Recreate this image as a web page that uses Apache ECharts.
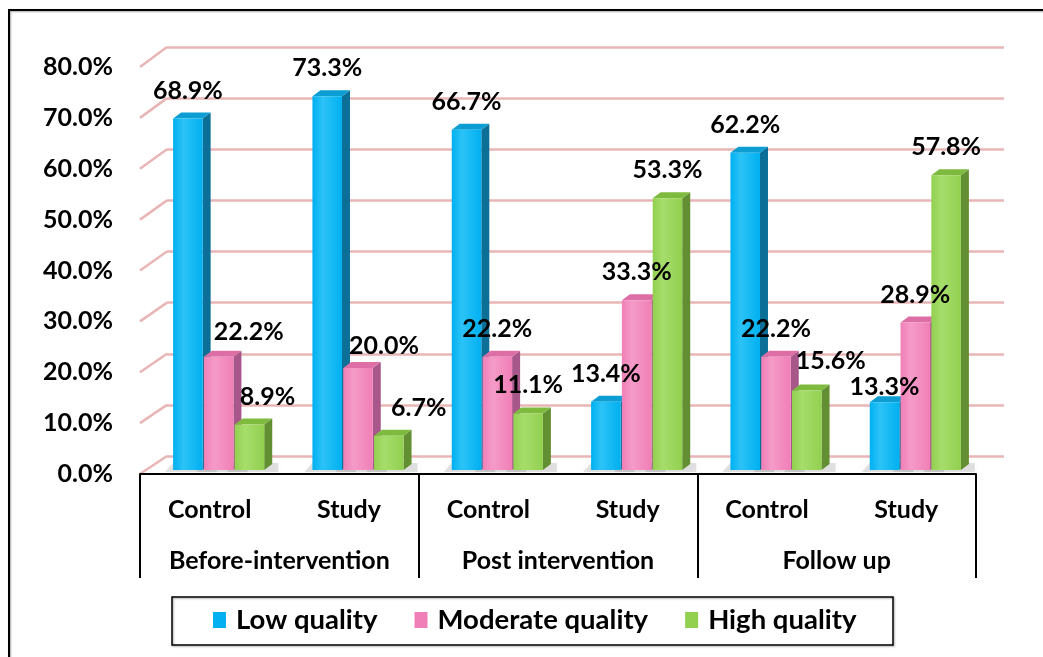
<!DOCTYPE html>
<html>
<head>
<meta charset="utf-8">
<script src="https://cdn.jsdelivr.net/npm/echarts@6/dist/echarts.min.js"></script>
<style>
  html, body { margin: 0; padding: 0; background: #ffffff; }
  #chart { width: 1043px; height: 657px; }
</style>
</head>
<body>
<div id="chart"></div>
<script>
// ---- data ----
const phases = ['Before-intervention', 'Post intervention', 'Follow up'];
const arms = ['Control', 'Study', 'Control', 'Study', 'Control', 'Study'];
const lowQuality = [68.9, 73.3, 66.7, 13.4, 62.2, 13.3];
const moderateQuality = [22.2, 20.0, 22.2, 33.3, 22.2, 28.9];
const highQuality = [8.9, 6.7, 11.1, 53.3, 15.6, 57.8];
const yMin = 0, yMax = 80, yStep = 10;

// ---- layout & style ----
const FONT = 'Lato, "Open Sans", sans-serif';
const FRONT = { left: 140, right: 67, top: 67, bottom: 183 };   // axis labels / category table plane
const BACK = { left: 167, right: 39, top: 47, bottom: 201 };    // back wall with gridlines
const BARS = { left: 149, right: 58, top: 62, bottom: 187 };    // plane the bars stand on
const DEPTH = [8, -6];                                          // bar thickness in depth
const GRID_PINK = '#E8B6B6';

const palettes = {
  low:      { front: '#00B0F0', light: '#2CC3F7', side: '#0B6F98', top: '#0C9DD3' },
  moderate: { front: '#F07FB7', light: '#F59BC8', side: '#A8578A', top: '#DE6FA6' },
  high:     { front: '#92D050', light: '#A6DD6B', side: '#628F31', top: '#7DBA3E' }
};

// labels that sit beside their bar rather than straight above it: [dx, dy]
const labelNudges = {
  low: { 5: [0, 13] },
  moderate: { 0: [30, 3], 1: [26, 6] },
  high: { 0: [18, 0], 1: [30, 0], 4: [24, -2] }
};

function bar3d(slot, pal, nudges) {
  return function (params, api) {
    const idx = api.value(0);
    const v = api.value(1);
    const band = api.coord([1, 0])[0] - api.coord([0, 0])[0];
    const w = band * 0.212;
    const step = band * 0.221;
    const base = api.coord([idx, 0]);
    const top = api.coord([idx, v]);
    const cx = base[0] + (slot - 1) * step;
    const x0 = cx - w / 2, x1 = cx + w / 2;
    const yT = top[1], yB = base[1];
    const dx = DEPTH[0], dy = DEPTH[1];
    const nd = nudges[params.dataIndex] || [0, 0];
    return {
      type: 'group',
      children: [
        { // soft floor shadow
          type: 'polygon', z2: -5, silent: true,
          shape: { points: [[x0 - 8, yB + 2], [x1 + dx + 6, yB + 2], [x1 + dx + 6, yB + dy - 1], [x0 + dx - 8, yB + dy - 1]] },
          style: { fill: 'rgba(90,90,90,0.16)', shadowBlur: 6, shadowColor: 'rgba(90,90,90,0.35)' }
        },
        {
          type: 'polygon', z2: slot * 3,
          shape: { points: [[x1, yB], [x1 + dx, yB + dy], [x1 + dx, yT + dy], [x1, yT]] },
          style: { fill: pal.side }
        },
        {
          type: 'polygon', z2: slot * 3 + 1,
          shape: { points: [[x0, yT], [x0 + dx, yT + dy], [x1 + dx, yT + dy], [x1, yT]] },
          style: { fill: pal.top }
        },
        {
          type: 'rect', z2: slot * 3 + 2,
          shape: { x: x0, y: yT, width: w, height: yB - yT },
          style: {
            fill: new echarts.graphic.LinearGradient(0, 0, 1, 0, [
              { offset: 0, color: pal.front },
              { offset: 0.35, color: pal.light },
              { offset: 1, color: pal.front }
            ])
          }
        },
        {
          type: 'text', z2: 100,
          x: cx + nd[0], y: yT - 28 + nd[1],
          style: {
            text: v.toFixed(1) + '%',
            font: 'bold 25px ' + FONT,
            fill: '#000000',
            align: 'center',
            verticalAlign: 'middle'
          }
        }
      ]
    };
  };
}

function seriesFor(name, key, values, slot) {
  return {
    name: name,
    type: 'custom',
    xAxisIndex: 3,
    yAxisIndex: 2,
    itemStyle: { color: palettes[key].front },
    renderItem: bar3d(slot, palettes[key], labelNudges[key]),
    encode: { x: 0, y: 1 },
    data: values.map((v, i) => [i, v])
  };
}

const chart = echarts.init(document.getElementById('chart'), null, { renderer: 'canvas' });

const option = {
  animation: false,
  backgroundColor: '#ffffff',
  grid: [
    Object.assign({ containLabel: false }, FRONT),
    Object.assign({ containLabel: false }, BACK),
    Object.assign({ containLabel: false }, BARS)
  ],
  xAxis: [
    { // arm row of the category table
      gridIndex: 0, type: 'category', data: arms, position: 'bottom',
      axisLine: { show: true, lineStyle: { color: '#000000', width: 2 } },
      axisTick: { show: false },
      axisLabel: { interval: 0, color: '#000000', fontFamily: FONT, fontWeight: 'bold', fontSize: 25, margin: 23 },
      splitLine: { show: false }
    },
    { // phase row with its divider lines
      gridIndex: 0, type: 'category', data: phases, position: 'bottom', offset: 0,
      axisLine: { show: false },
      axisTick: { show: true, interval: 0, length: 104, lineStyle: { color: '#000000', width: 2 } },
      axisLabel: { interval: 0, hideOverlap: false, color: '#000000', fontFamily: FONT, fontWeight: 'bold', fontSize: 25, margin: 74 },
      splitLine: { show: false }
    },
    { gridIndex: 1, type: 'value', min: 0, max: 1, show: false },
    { gridIndex: 2, type: 'category', data: arms, show: false }
  ],
  yAxis: [
    {
      gridIndex: 0, type: 'value', min: yMin, max: yMax, interval: yStep,
      axisLine: { show: false }, axisTick: { show: false }, splitLine: { show: false },
      axisLabel: {
        color: '#000000', fontFamily: FONT, fontWeight: 'bold', fontSize: 25, margin: 27,
        formatter: v => v.toFixed(1) + '%'
      }
    },
    {
      gridIndex: 1, type: 'value', min: yMin, max: yMax, interval: yStep,
      axisLine: { show: false }, axisTick: { show: false }, axisLabel: { show: false },
      splitLine: { show: true, lineStyle: { color: GRID_PINK, width: 2.5 } }
    },
    { gridIndex: 2, type: 'value', min: yMin, max: yMax, interval: yStep, show: false }
  ],
  legend: {
    left: 213, top: 606,
    padding: 0,
    itemWidth: 13, itemHeight: 16, itemGap: 37,
    icon: 'rect',
    textStyle: { color: '#000000', fontFamily: FONT, fontWeight: 'bold', fontSize: 27.5, padding: [0, 0, 0, 5] },
    data: ['Low quality', 'Moderate quality', 'High quality']
  },
  series: [
    seriesFor('Low quality', 'low', lowQuality, 0),
    seriesFor('Moderate quality', 'moderate', moderateQuality, 1),
    seriesFor('High quality', 'high', highQuality, 2)
  ]
};

chart.setOption(option);

// depth connectors from the value labels back to the wall gridlines, plus frames
const connectors = [];
for (let v = yMin; v <= yMax; v += yStep) {
  const yf = chart.convertToPixel({ yAxisIndex: 0 }, v);
  const yb = chart.convertToPixel({ yAxisIndex: 1 }, v);
  connectors.push({
    type: 'line', silent: true, z: 0,
    shape: { x1: FRONT.left, y1: yf, x2: BACK.left, y2: yb },
    style: { stroke: GRID_PINK, lineWidth: 2.5 }
  });
}

chart.setOption({
  graphic: connectors.concat([
    { // chart frame
      type: 'rect', silent: true, z: 0,
      shape: { x: 9, y: 10, width: 1100, height: 700 },
      style: { fill: null, stroke: '#000000', lineWidth: 2, shadowBlur: 2, shadowColor: 'rgba(0,0,0,0.35)', shadowOffsetX: 1, shadowOffsetY: 1 }
    },
    { // legend frame
      type: 'rect', silent: true, z: 0,
      shape: { x: 172, y: 597, width: 721, height: 48 },
      style: { fill: null, stroke: '#000000', lineWidth: 1.5, shadowBlur: 2, shadowColor: 'rgba(0,0,0,0.35)', shadowOffsetX: 1, shadowOffsetY: 1 }
    }
  ])
});
</script>
</body>
</html>
